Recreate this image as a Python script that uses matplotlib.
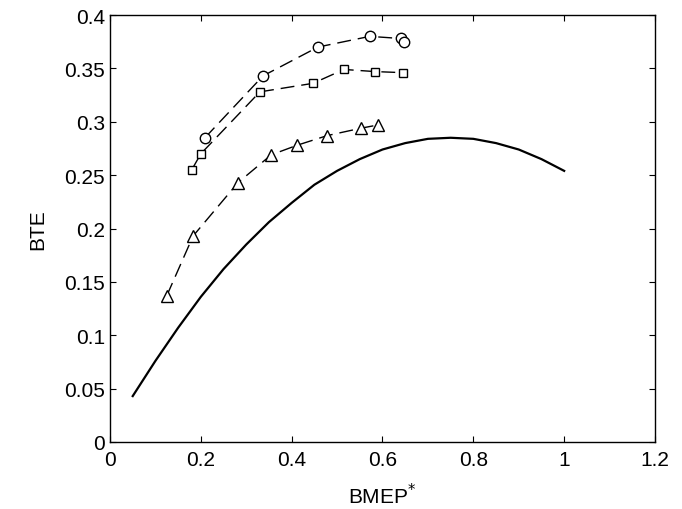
import numpy as np
import matplotlib.pyplot as plt

plt.rcParams['font.family'] = ['Liberation Sans', 'DejaVu Sans']

# circle series
x_circ = [0.209, 0.337, 0.458, 0.572, 0.640, 0.648]
y_circ = [0.285, 0.343, 0.370, 0.380, 0.378, 0.375]

# square series
x_sq = [0.180, 0.200, 0.330, 0.447, 0.515, 0.584, 0.645]
y_sq = [0.255, 0.270, 0.328, 0.336, 0.349, 0.347, 0.346]

# triangle series
x_tri = [0.125, 0.183, 0.282, 0.355, 0.412, 0.478, 0.553, 0.590]
y_tri = [0.137, 0.193, 0.243, 0.269, 0.278, 0.287, 0.294, 0.297]

# solid curve
x_cur = [0.05, 0.10, 0.15, 0.20, 0.25, 0.30, 0.35, 0.40, 0.45, 0.50,
         0.55, 0.60, 0.65, 0.70, 0.75, 0.80, 0.85, 0.90, 0.95, 1.00]
y_cur = [0.043, 0.076, 0.107, 0.136, 0.162, 0.185, 0.206, 0.224, 0.241, 0.254,
         0.265, 0.274, 0.280, 0.284, 0.285, 0.284, 0.280, 0.274, 0.265, 0.254]

fig = plt.figure(figsize=(6.82, 5.10), dpi=100)
ax = fig.add_axes([0.1613, 0.1314, 0.7991, 0.8372])

ax.plot(x_cur, y_cur, color='black', lw=1.6)
ax.plot(x_circ, y_circ, color='black', lw=1.0, dashes=(10, 5), marker='o',
        ms=7.5, mfc='white', mec='black', mew=1.0)
ax.plot(x_sq, y_sq, color='black', lw=1.0, dashes=(10, 5), marker='s',
        ms=6, mfc='white', mec='black', mew=1.0)
ax.plot(x_tri, y_tri, color='black', lw=1.0, dashes=(10, 5), marker='^',
        ms=8, mfc='white', mec='black', mew=1.0)

ax.set_xlim(0, 1.2)
ax.set_ylim(0, 0.4)
ax.set_xticks([0, 0.2, 0.4, 0.6, 0.8, 1, 1.2])
ax.set_xticklabels(['0', '0.2', '0.4', '0.6', '0.8', '1', '1.2'])
ax.set_yticks([0, 0.05, 0.1, 0.15, 0.2, 0.25, 0.3, 0.35, 0.4])
ax.set_yticklabels(['0', '0.05', '0.1', '0.15', '0.2', '0.25', '0.3', '0.35', '0.4'])
ax.tick_params(direction='in', top=True, right=True, labelsize=15, length=4, width=0.8)
ax.tick_params(axis='x', pad=6)
for s in ax.spines.values():
    s.set_linewidth(1.0)

ax.set_xlabel(r'BMEP$^{*}$', fontsize=15, labelpad=9)
ax.set_ylabel('BTE', fontsize=15, labelpad=12)

fig.savefig('out.png', dpi=100)
